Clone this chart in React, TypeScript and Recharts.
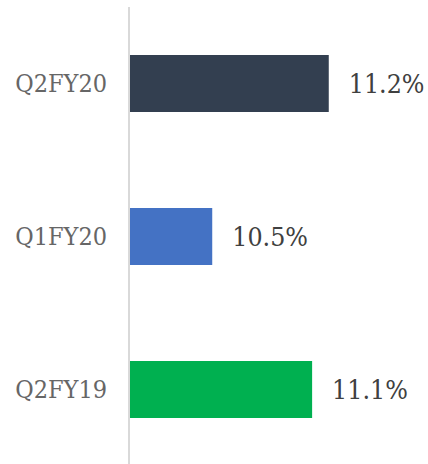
import { BarChart, Bar, XAxis, YAxis, Cell, LabelList } from 'recharts'

const quarters = ['Q2FY20', 'Q1FY20', 'Q2FY19']
const margins = [11.2, 10.5, 11.1]
const barColors = ['#333F50', '#4472C4', '#00B050']

const data = quarters.map((q, i) => ({ quarter: q, value: margins[i] }))

const font = "'DejaVu Serif Condensed', 'DejaVu Serif', serif"

export default function App() {
  return (
    <div style={{ position: 'absolute', left: 0, top: 0, width: 428, height: 464, overflow: 'hidden', background: '#fff' }}>
      <BarChart
        width={428}
        height={466}
        data={data}
        layout="vertical"
        margin={{ top: 7, right: 16, left: 0, bottom: 0 }}
      >
        <XAxis type="number" hide domain={[10, 11.7]} allowDataOverflow />
        <YAxis
          type="category"
          dataKey="quarter"
          width={129}
          axisLine={{ stroke: '#D9D9D9', strokeWidth: 2 }}
          tickLine={false}
          tickMargin={16}
          tick={{ fontSize: 25, fill: '#666666', fontFamily: font }}
        />
        <Bar dataKey="value" barSize={57} isAnimationActive={false}>
          {data.map((d, i) => (
            <Cell key={d.quarter} fill={barColors[i]} />
          ))}
          <LabelList
            dataKey="value"
            position="right"
            offset={20}
            formatter={(v: number) => `${v}%`}
            style={{ fontSize: 26.5, fill: '#404040', fontFamily: font }}
          />
        </Bar>
      </BarChart>
    </div>
  )
}
